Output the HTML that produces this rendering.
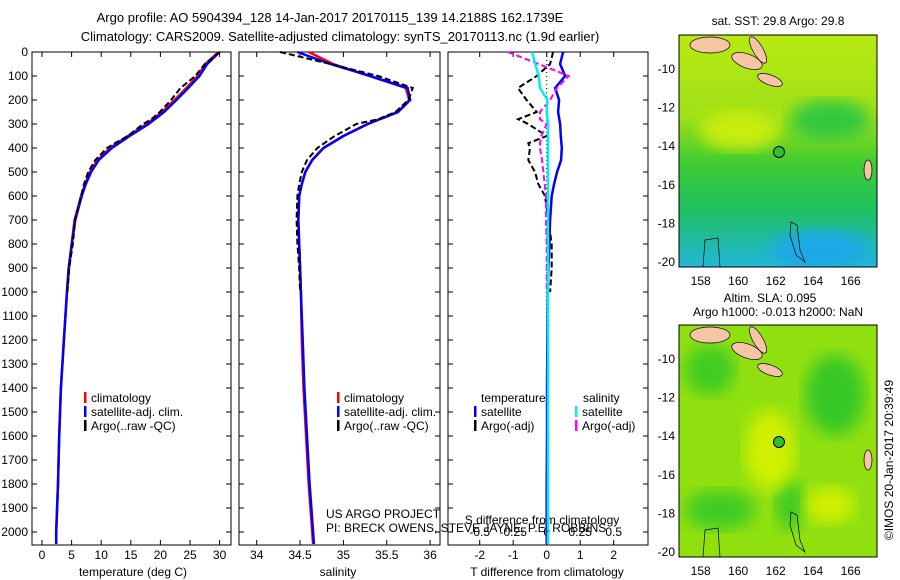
<!DOCTYPE html>
<html><head><meta charset="utf-8">
<style>
body{margin:0;background:#fff;}
svg{display:block;font-family:"Liberation Sans",sans-serif;font-size:12px;}
</style></head>
<body>
<svg id="fig" width="900" height="580" viewBox="0 0 900 580">
<defs>
<linearGradient id="sstg" x1="0" y1="0" x2="0" y2="1">
<stop offset="0" stop-color="#b8ea10"/><stop offset="0.35" stop-color="#a0e018"/><stop offset="0.55" stop-color="#40cc30"/><stop offset="0.75" stop-color="#20c060"/><stop offset="1" stop-color="#20b8d8"/></linearGradient>
<filter id="blur"><feGaussianBlur stdDeviation="8"/></filter>
<clipPath id="c1"><rect x="679" y="35" width="198" height="232"/></clipPath>
<clipPath id="c2"><rect x="679" y="325" width="198" height="232"/></clipPath>
</defs>
<text x="330" y="22" text-anchor="middle" font-size="13">Argo profile: AO 5904394_128 14-Jan-2017 20170115_139 14.2188S 162.1739E</text>
<text x="340" y="41" text-anchor="middle" font-size="13">Climatology: CARS2009. Satellite-adjusted climatology: synTS_20170113.nc (1.9d earlier)</text>
<g id="plots"></g>

<g>
<text x="778" y="25" text-anchor="middle">sat. SST: 29.8 Argo: 29.8</text>
<g clip-path="url(#c1)">
<rect x="679" y="35" width="198" height="232" fill="url(#sstg)"/>
<ellipse cx="740" cy="130" rx="40" ry="20" fill="#c8ee10" filter="url(#blur)"/>
<ellipse cx="830" cy="120" rx="40" ry="20" fill="#30c840" filter="url(#blur)"/>
<ellipse cx="820" cy="250" rx="50" ry="20" fill="#1aa8e8" filter="url(#blur)"/>
<ellipse cx="710" cy="45" rx="20" ry="8" fill="#f5c5a5" stroke="#000" stroke-width="0.7"/>
<ellipse cx="747" cy="61" rx="16" ry="7" fill="#f5c5a5" stroke="#000" stroke-width="0.7" transform="rotate(20 747 61)"/>
<ellipse cx="758" cy="50" rx="5" ry="15" fill="#f5c5a5" stroke="#000" stroke-width="0.7" transform="rotate(-30 758 50)"/>
<ellipse cx="770" cy="80" rx="13" ry="5" fill="#f5c5a5" stroke="#000" stroke-width="0.7" transform="rotate(20 770 80)"/>
<ellipse cx="868" cy="170" rx="4" ry="10" fill="#f5c5a5" stroke="#000" stroke-width="0.7"/>
<path d="M791 222 L797 225 L800 250 L805 262 L796 255 L790 235Z" fill="none" stroke="#000" stroke-width="0.7"/>
<path d="M705 240 L718 238 L720 267 L703 267Z" fill="none" stroke="#000" stroke-width="0.7"/>
<circle cx="779" cy="152" r="5.5" fill="#30c030" stroke="#000"/>
</g>
<rect x="679" y="35" width="198" height="232" fill="none" stroke="#000"/>
</g>
<text x="770" y="302" text-anchor="middle">Altim. SLA: 0.095</text>
<text x="778" y="316" text-anchor="middle">Argo h1000: -0.013 h2000: NaN</text>

<g>
<g clip-path="url(#c2)">
<rect x="679" y="325" width="198" height="232" fill="#90e010"/>
<ellipse cx="710" cy="370" rx="25" ry="25" fill="#40cc20" filter="url(#blur)"/>
<ellipse cx="835" cy="395" rx="30" ry="40" fill="#38c828" filter="url(#blur)"/>
<ellipse cx="720" cy="510" rx="35" ry="20" fill="#40cc20" filter="url(#blur)"/>
<ellipse cx="790" cy="505" rx="15" ry="25" fill="#40cc20" filter="url(#blur)"/>
<ellipse cx="770" cy="450" rx="25" ry="40" fill="#d0f000" filter="url(#blur)"/>
<ellipse cx="830" cy="505" rx="25" ry="18" fill="#d0f000" filter="url(#blur)"/>
<ellipse cx="710" cy="335" rx="20" ry="8" fill="#f5c5a5" stroke="#000" stroke-width="0.7"/>
<ellipse cx="747" cy="351" rx="16" ry="7" fill="#f5c5a5" stroke="#000" stroke-width="0.7" transform="rotate(20 747 351)"/>
<ellipse cx="758" cy="340" rx="5" ry="15" fill="#f5c5a5" stroke="#000" stroke-width="0.7" transform="rotate(-30 758 340)"/>
<ellipse cx="770" cy="370" rx="13" ry="5" fill="#f5c5a5" stroke="#000" stroke-width="0.7" transform="rotate(20 770 370)"/>
<ellipse cx="868" cy="460" rx="4" ry="10" fill="#f5c5a5" stroke="#000" stroke-width="0.7"/>
<path d="M791 512 L797 515 L800 540 L805 552 L796 545 L790 525Z" fill="none" stroke="#000" stroke-width="0.7"/>
<path d="M705 530 L718 528 L720 557 L703 557Z" fill="none" stroke="#000" stroke-width="0.7"/>
<circle cx="779" cy="442" r="5.5" fill="#30c030" stroke="#000"/>
</g>
<rect x="679" y="325" width="198" height="232" fill="none" stroke="#000"/>
</g>
<text transform="translate(893,460) rotate(-90)" text-anchor="middle">©IMOS 20-Jan-2017 20:39:49</text>
</svg>
<script>
var depthT = [0,50,100,150,200,250,300,350,400,450,500,550,600,700,800,900,1000,1200,1400,1600,1800,2000,2050];
var tempClim = [29.8,27.6,26.3,24.4,22.4,20.3,17.7,14.5,11.5,9.4,8.1,7.3,6.6,5.5,5.0,4.5,4.2,3.7,3.2,2.9,2.7,2.4,2.4];
var tempSat  = [30.0,27.9,26.6,24.7,22.7,20.6,18.0,14.8,11.8,9.6,8.3,7.4,6.7,5.6,5.05,4.55,4.22,3.7,3.2,2.9,2.7,2.4,2.4];
var depthArgo = [0,50,100,150,200,250,280,300,350,380,400,450,500,550,600,700,800,900,1000];
var tempArgo = [30.0,27.5,25.9,23.4,21.8,19.9,18.5,17.1,14.5,12.3,11.0,9.0,7.8,7.1,6.6,5.6,5.2,4.6,4.3];
var salClim = [34.6,34.88,35.3,35.72,35.76,35.63,35.28,35.0,34.77,34.64,34.56,34.52,34.49,34.48,34.49,34.5,34.51,34.52,34.54,34.57,34.6,34.64,34.65];
var salSat  = [34.47,34.85,35.31,35.74,35.77,35.63,35.28,35.0,34.77,34.64,34.56,34.52,34.49,34.48,34.49,34.5,34.51,34.53,34.55,34.58,34.61,34.65,34.66];
var salArgo = [34.27,34.85,35.4,35.8,35.75,35.6,35.4,35.15,34.9,34.78,34.7,34.58,34.52,34.49,34.47,34.46,34.47,34.49,34.5];
var dTsat = [0.49,0.4,0.55,0.25,0.37,0.34,0.4,0.42,0.45,0.43,0.31,0.22,0.15,0.1,0.08,0.05,0.03,0.02,0.01,0.01,0.0,0.0,0.0];
var dSsat = [-0.11,-0.085,-0.06,-0.05,0.005,0.0,0.01,0.01,0.01,0.01,0.01,0.01,0.01,0.01,0.01,0.01,0.01,0.01,0.01,0.01,0.01,0.01,0.01];
var dTargo = [0.19,0.1,-0.3,-0.86,-0.6,-0.3,-0.85,-0.55,0.0,-0.55,-0.5,-0.55,-0.35,-0.25,-0.05,0.05,0.15,0.15,0.1];
var dSargo = [-0.29,-0.06,0.165,0.075,0.025,-0.05,-0.05,0.0,-0.04,-0.05,-0.05,-0.035,-0.025,-0.015,-0.005,-0.005,0.0,0.0,0.0];
var depthTicks = [0,100,200,300,400,500,600,700,800,900,1000,1100,1200,1300,1400,1500,1600,1700,1800,1900,2000];
var tempTicks = [0,5,10,15,20,25,30];
var salTicks = [34,34.5,35,35.5,36];
var dTTicks = [-2,-1,0,1,2];
var dSTickLabels = ["-0.5","-0.25","0","0.25","0.5"];
var dSTicks = [-0.5,-0.25,0,0.25,0.5];
var latTicks = [-10,-12,-14,-16,-18,-20];
var lonTicks = [158,160,162,164,166];

var NS='http://www.w3.org/2000/svg';
var g=document.getElementById('plots');
function yD(d){return 52+d*0.24;}
function xT(t){return 42+t*5.92;}
function xS(s){return 256.7+(s-34)*86.7;}
function xdT(v){return 546.7+v*33.5;}
function xdS(v){return 546.7+v*134;}
function el(tag,attrs,parent){var e=document.createElementNS(NS,tag);for(var k in attrs)e.setAttribute(k,attrs[k]);(parent||g).appendChild(e);return e;}
function line(xs,ys,xf,col,w,dash,name){
  var p='';for(var i=0;i<xs.length;i++){p+=(i?'L':'M')+xf(xs[i]).toFixed(1)+' '+yD(ys[i]).toFixed(1);}
  var e=el('path',{d:p,fill:'none',stroke:col,'stroke-width':w});
  if(dash)e.setAttribute('stroke-dasharray',dash);
  
  
}
function txt(x,y,s,anchor,name){var t=el('text',{x:x,y:y,'text-anchor':anchor||'start'});t.textContent=s;
  
  
  return t;}
var panels=[[32,231],[239,440],[448,648]];
panels.forEach(function(p,i){
  var r=el('rect',{x:p[0],y:52,width:p[1]-p[0],height:493,fill:'none',stroke:'#000'});
  
  
  depthTicks.forEach(function(d){
    el('line',{x1:p[0],x2:p[0]+5,y1:yD(d),y2:yD(d),stroke:'#000'});
    el('line',{x1:p[1],x2:p[1]-5,y1:yD(d),y2:yD(d),stroke:'#000'});
  });
});
depthTicks.forEach(function(d){txt(28,yD(d)+4,String(d),'end','depth-tick-label');});
tempTicks.forEach(function(t){el('line',{x1:xT(t),x2:xT(t),y1:545,y2:540,stroke:'#000'});el('line',{x1:xT(t),x2:xT(t),y1:52,y2:57,stroke:'#000'});txt(xT(t),559,String(t),'middle','temp-tick-label');});
salTicks.forEach(function(t){el('line',{x1:xS(t),x2:xS(t),y1:545,y2:540,stroke:'#000'});el('line',{x1:xS(t),x2:xS(t),y1:52,y2:57,stroke:'#000'});txt(xS(t),559,String(t),'middle','salinity-tick-label');});
dTTicks.forEach(function(t){el('line',{x1:xdT(t),x2:xdT(t),y1:545,y2:540,stroke:'#000'});el('line',{x1:xdT(t),x2:xdT(t),y1:52,y2:57,stroke:'#000'});txt(xdT(t),559,String(t),'middle','tdiff-tick-label');});
dSTicks.forEach(function(t,i){txt(xdS(t),536,dSTickLabels[i],'middle','sdiff-tick-label');});
txt(133,576,'temperature (deg C)','middle','temperature-axis-title');
txt(338,576,'salinity','middle','salinity-axis-title');
txt(547,576,'T difference from climatology','middle','tdiff-axis-title');
txt(542,524,'S difference from climatology','middle','sdiff-axis-title');
el('line',{x1:xdT(0),x2:xdT(0),y1:52,y2:545,stroke:'#000','stroke-dasharray':'1,3'});
line(tempClim,depthT,xT,'#f00',2.5,null,'temp-climatology-line');
line(tempSat,depthT,xT,'#00f',2.5,null,'temp-satellite-line');
line(tempArgo,depthArgo,xT,'#000',2,'6,3','temp-argo-line');
line(salClim,depthT,xS,'#f00',2.5,null,'salinity-climatology-line');
line(salSat,depthT,xS,'#00f',2.5,null,'salinity-satellite-line');
line(salArgo,depthArgo,xS,'#000',2,'6,3','salinity-argo-line');
line(dTsat,depthT,xdT,'#00f',2.5,null,'tdiff-satellite-line');
line(dTargo,depthArgo,xdT,'#000',2,'6,3','tdiff-argo-line');
line(dSargo,depthArgo,xdS,'#f0f',2,'6,3','sdiff-argo-line');
line(dSsat,depthT,xdS,'#0ee',2.5,null,'sdiff-satellite-line');
function leg(x,y,col,s,name){el('rect',{x:x,y:y-10,width:2.5,height:11,fill:col});txt(x+7,y,s,'start',name);}
leg(84,402,'#f00','climatology','legend-climatology');
leg(84,416,'#00f','satellite-adj. clim.','legend-satellite');
leg(84,430,'#000','Argo(..raw -QC)','legend-argo');
leg(337,402,'#f00','climatology','legend-climatology-2');
leg(337,416,'#00f','satellite-adj. clim.','legend-satellite-2');
leg(337,430,'#000','Argo(..raw -QC)','legend-argo-2');
txt(481,402,'temperature','start','legend-temperature-heading');
txt(583,402,'salinity','start','legend-salinity-heading');
leg(474,416,'#00f','satellite','legend-t-satellite');
leg(474,430,'#000','Argo(-adj)','legend-t-argo');
leg(575,416,'#0ee','satellite','legend-s-satellite');
leg(575,430,'#f0f','Argo(-adj)','legend-s-argo');
txt(326,518,'US ARGO PROJECT','start','project-label');
txt(326,532,'PI: BRECK OWENS, STEVE JAYNE, P.E. ROBBINS','start','pi-label');
[[35,69],[325,359]].forEach(function(m,mi){
  latTicks.forEach(function(l){var y=m[1]+(-10-l)*19.3;
    el('line',{x1:679,x2:684,y1:y,y2:y,stroke:'#000'});el('line',{x1:877,x2:872,y1:y,y2:y,stroke:'#000'});
    txt(675,y+4,String(l),'end','map-lat-label');});
  lonTicks.forEach(function(l){var x=700.7+(l-158)*18.75;
    el('line',{x1:x,x2:x,y1:m[0],y2:m[0]+5,stroke:'#000'});el('line',{x1:x,x2:x,y1:m[0]+232,y2:m[0]+227,stroke:'#000'});
    txt(x,m[0]+250,String(l),'middle','map-lon-label');});
});
</script>
</body></html>
